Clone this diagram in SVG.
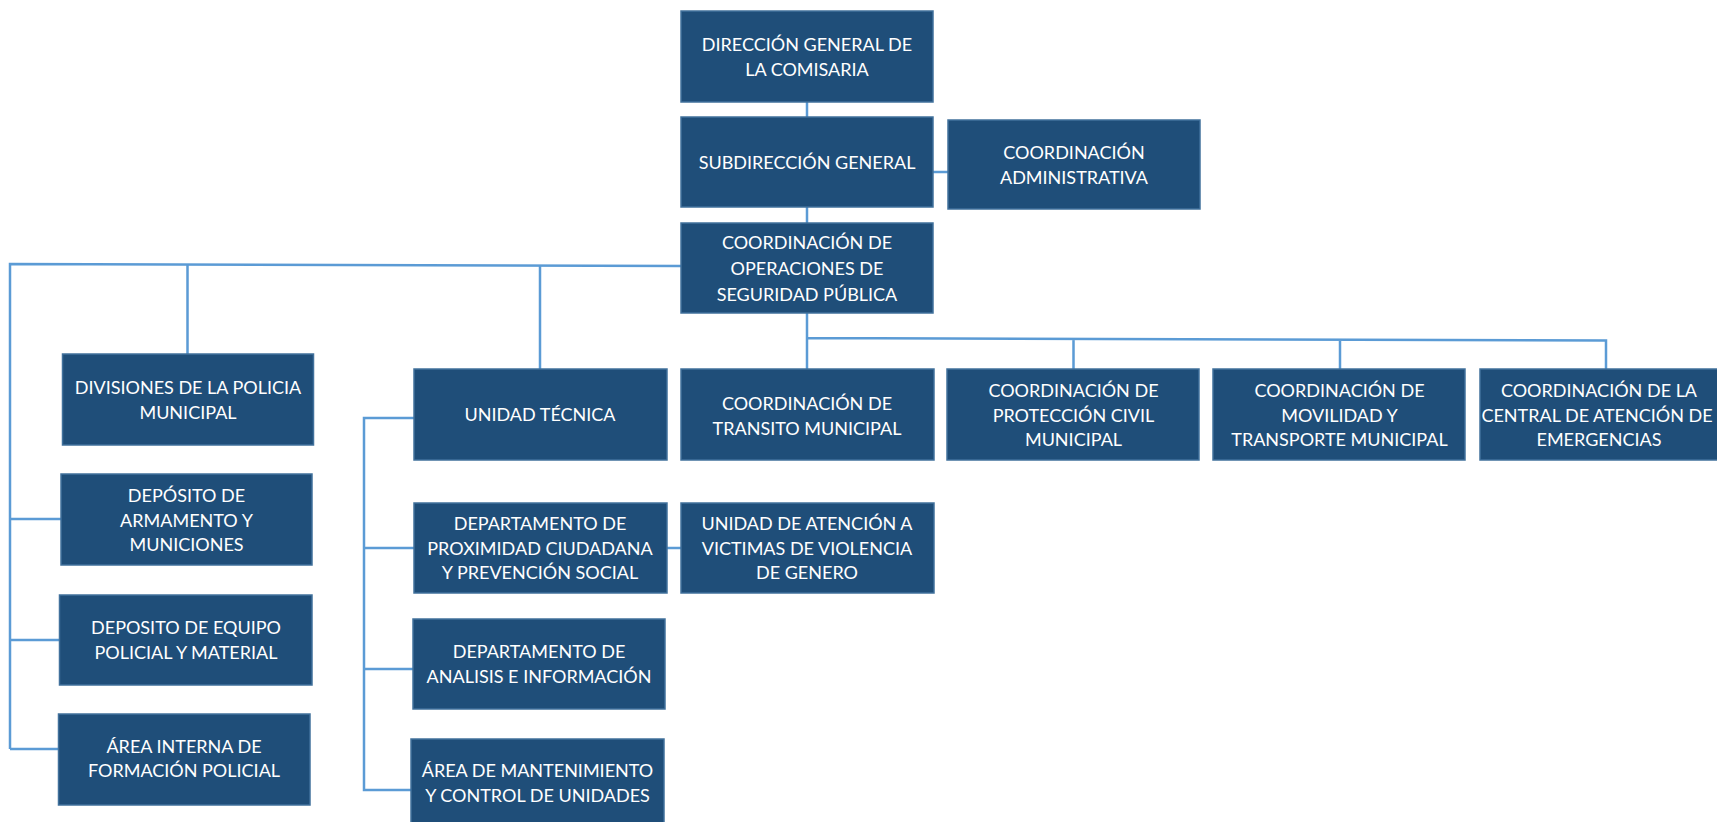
<svg xmlns="http://www.w3.org/2000/svg" width="1717" height="822" viewBox="0 0 1717 822">
<style>
.box{fill:#1F4E79;stroke:#41719C;stroke-width:1.5}
.t{fill:#FFFFFF;font-family:Lato,"Liberation Sans",sans-serif;font-size:18px;text-anchor:middle}
.c{fill:none;stroke:#5B9BD5;stroke-width:2.5}
</style>
<rect width="1717" height="822" fill="#FFFFFF"/>
<g id="connectors">
<path class="c" d="M807 102V117M807 207V223M933 172H948"/>
<path class="c" d="M681 266L10 264V749M10 519H61M10 640H59M10 749H58"/>
<path class="c" d="M187.5 264.5V354M540 265V369"/>
<path class="c" d="M807 313V369M807 338L1606 340.5V369M1073.5 339V369M1340 340V369"/>
<path class="c" d="M414 418H364V790H411M364 548H414M364 669H413"/>
<path class="c" d="M667 548H681"/>
</g>
<g id="n-direccion"><rect class="box" x="681" y="11" width="252" height="91"/><text class="t" x="807" y="51">DIRECCIÓN GENERAL DE</text><text class="t" x="807" y="76">LA COMISARIA</text></g>
<g id="n-subdireccion"><rect class="box" x="681" y="117" width="252" height="90"/><text class="t" x="807" y="169">SUBDIRECCIÓN GENERAL</text></g>
<g id="n-coord-admin"><rect class="box" x="948" y="120" width="252" height="89"/><text class="t" x="1074" y="159">COORDINACIÓN</text><text class="t" x="1074" y="184">ADMINISTRATIVA</text></g>
<g id="n-coord-op"><rect class="box" x="681" y="223" width="252" height="90"/><text class="t" x="807" y="249">COORDINACIÓN DE</text><text class="t" x="807" y="275">OPERACIONES DE</text><text class="t" x="807" y="301">SEGURIDAD PÚBLICA</text></g>
<g id="n-divisiones"><rect class="box" x="62.5" y="354" width="251" height="91"/><text class="t" x="188" y="394">DIVISIONES DE LA POLICIA</text><text class="t" x="188" y="419">MUNICIPAL</text></g>
<g id="n-deposito-arm"><rect class="box" x="61" y="474" width="251" height="91"/><text class="t" x="186.5" y="502">DEPÓSITO DE</text><text class="t" x="186.5" y="527">ARMAMENTO Y</text><text class="t" x="186.5" y="551">MUNICIONES</text></g>
<g id="n-deposito-eq"><rect class="box" x="59.5" y="595" width="252.5" height="90"/><text class="t" x="186" y="634">DEPOSITO DE EQUIPO</text><text class="t" x="186" y="659">POLICIAL Y MATERIAL</text></g>
<g id="n-area-interna"><rect class="box" x="58.5" y="714" width="251.5" height="91"/><text class="t" x="184" y="753">ÁREA INTERNA DE</text><text class="t" x="184" y="777">FORMACIÓN POLICIAL</text></g>
<g id="n-unidad-tecnica"><rect class="box" x="414" y="369" width="253" height="91"/><text class="t" x="540" y="421">UNIDAD TÉCNICA</text></g>
<g id="n-dept-prox"><rect class="box" x="414" y="503" width="253" height="90"/><text class="t" x="540" y="530">DEPARTAMENTO DE</text><text class="t" x="540" y="555">PROXIMIDAD CIUDADANA</text><text class="t" x="540" y="579">Y PREVENCIÓN SOCIAL</text></g>
<g id="n-dept-analisis"><rect class="box" x="413" y="619" width="252" height="90"/><text class="t" x="539" y="658">DEPARTAMENTO DE</text><text class="t" x="539" y="683">ANALISIS E INFORMACIÓN</text></g>
<g id="n-area-mant"><rect class="box" x="411" y="739" width="253" height="91"/><text class="t" x="537.5" y="777">ÁREA DE MANTENIMIENTO</text><text class="t" x="537.5" y="802">Y CONTROL DE UNIDADES</text></g>
<g id="n-transito"><rect class="box" x="681" y="369" width="253" height="91"/><text class="t" x="807" y="410">COORDINACIÓN DE</text><text class="t" x="807" y="435">TRANSITO MUNICIPAL</text></g>
<g id="n-atencion"><rect class="box" x="681" y="503" width="253" height="90"/><text class="t" x="807" y="530">UNIDAD DE ATENCIÓN A</text><text class="t" x="807" y="555">VICTIMAS DE VIOLENCIA</text><text class="t" x="807" y="579">DE GENERO</text></g>
<g id="n-proteccion"><rect class="box" x="947" y="369" width="252" height="91"/><text class="t" x="1073.5" y="397">COORDINACIÓN DE</text><text class="t" x="1073.5" y="422">PROTECCIÓN CIVIL</text><text class="t" x="1073.5" y="446">MUNICIPAL</text></g>
<g id="n-movilidad"><rect class="box" x="1213" y="369" width="252" height="91"/><text class="t" x="1339.5" y="397">COORDINACIÓN DE</text><text class="t" x="1339.5" y="422">MOVILIDAD Y</text><text class="t" x="1339.5" y="446">TRANSPORTE MUNICIPAL</text></g>
<g id="n-central"><rect class="box" x="1480" y="369" width="252" height="91"/><text class="t" x="1599" y="397">COORDINACIÓN DE LA</text><text class="t" x="1597" y="422">CENTRAL DE ATENCIÓN DE</text><text class="t" x="1599" y="446">EMERGENCIAS</text></g>
</svg>
